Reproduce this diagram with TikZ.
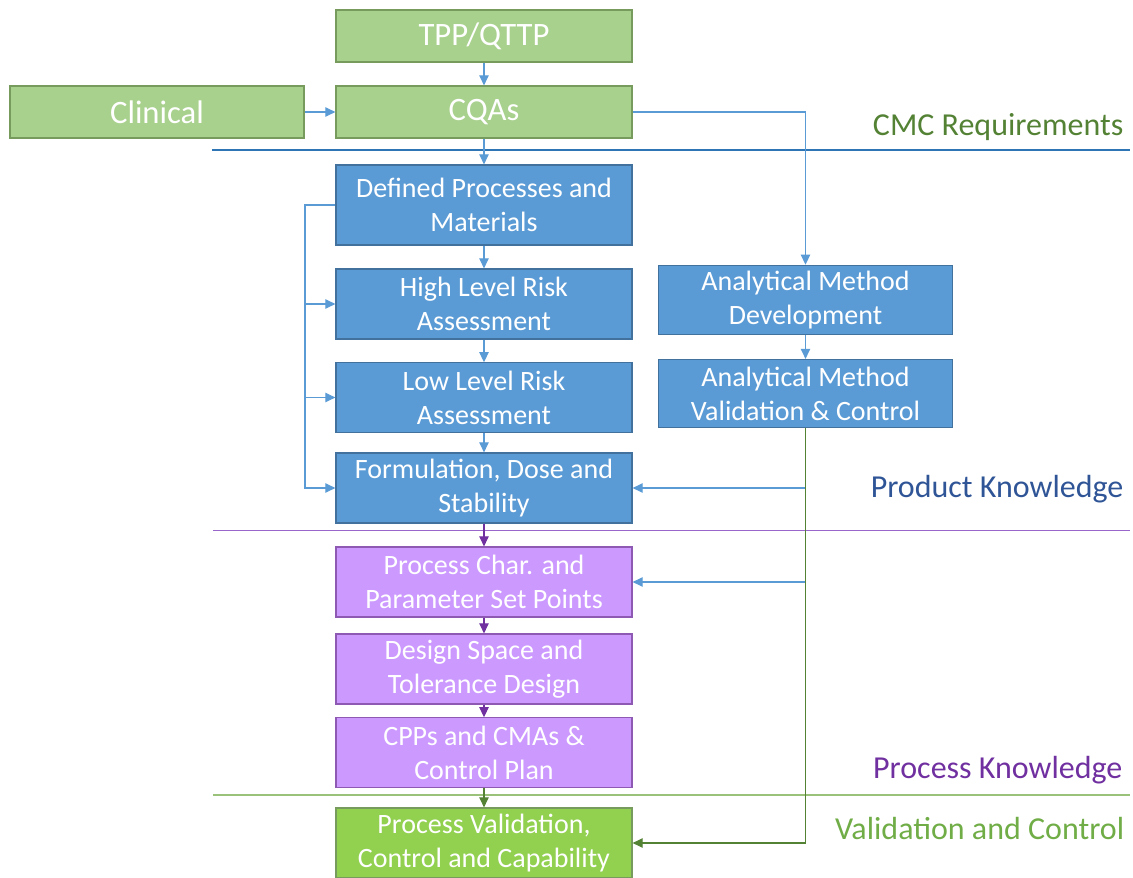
\documentclass[tikz,border=0pt]{standalone}
\usepackage{fontspec}
\setmainfont{Carlito}
\usetikzlibrary{arrows.meta}
\definecolor{lgreen}{HTML}{A9D18E}
\definecolor{dgreen}{HTML}{548235}
\definecolor{vgreen}{HTML}{92D050}
\definecolor{mgreen}{HTML}{70AD47}
\definecolor{sblue}{HTML}{5B9BD5}
\definecolor{dblue}{HTML}{41719C}
\definecolor{nblue}{HTML}{2F5597}
\definecolor{lblue}{HTML}{2E75B6}
\definecolor{lpurple}{HTML}{CC99FF}
\definecolor{dpurple}{HTML}{7030A0}
\definecolor{mpurple}{HTML}{9966CC}
\definecolor{pline}{HTML}{9BC27A}

\begin{document}
\begin{tikzpicture}[x=0.75pt,y=-0.75pt,
	box/.style={draw,line width=0.9pt,text=white,align=center,minimum width=222pt,inner sep=0pt,font=\fontsize{21}{25.5}\selectfont},
	topbox/.style={box,fill=lgreen,draw=dgreen!80,minimum height=39pt,font=\fontsize{24.5}{29}\selectfont},
	bluebox/.style={box,fill=sblue,draw=dblue},
	purplebox/.style={box,fill=lpurple,draw=dpurple!80},
	greenbox/.style={box,fill=vgreen,draw=dgreen!80},
	tag/.style={anchor=base east,font=\fontsize{24}{29}\selectfont},
	barrow/.style={sblue,line width=0.8pt,-{Triangle[length=7.5pt,width=7pt]}},
	parrow/.style={dpurple,line width=0.8pt,-{Triangle[length=7.5pt,width=7pt]}},
	garrow/.style={dgreen,line width=0.8pt,-{Triangle[length=7.5pt,width=7pt]}}]
\useasboundingbox (0,0) rectangle (1133,878);
% separators
\draw[lblue,line width=0.9pt] (212,150) -- (1130,150);
\draw[mpurple,line width=1.4pt] (213,530.5) -- (1130,530.5);
\draw[pline,line width=1.4pt] (213,795) -- (1130,795);
% boxes
\node[topbox] (tpp) at (484,36) {\raisebox{-3pt}{TPP/QTTP}};
\node[topbox,minimum width=220.5pt] (clin) at (157,112) {Clinical};
\node[topbox] (cqa) at (484,112) {\raisebox{-2pt}{CQAs}};
\node[bluebox,minimum height=60pt] (dpm) at (484,205) {Defined Processes and\\Materials};
\node[bluebox,minimum height=52.5pt] (hlra) at (484,304) {High Level Risk\\Assessment};
\node[bluebox,minimum height=52pt] (llra) at (484,397.5) {Low Level Risk\\Assessment};
\node[bluebox,minimum height=52.5pt] (fds) at (484,488) {Formulation, Dose and\\Stability};
\node[bluebox,minimum width=221pt,minimum height=52pt] (amd) at (805.5,300) {Analytical Method\\Development};
\node[bluebox,minimum width=221pt,minimum height=51pt] (amv) at (805.5,393.5) {Analytical Method\\Validation \& Control};
\node[purplebox,minimum height=52.5pt] (pcsp) at (484,582) {Process Char. and\\Parameter Set Points};
\node[purplebox,minimum height=52.5pt] (dstd) at (484,669) {Design Space and\\Tolerance Design};
\node[purplebox,minimum height=52pt] (cpp) at (484,752.5) {CPPs and CMAs \&\\Control Plan};
\node[greenbox,minimum height=52.5pt] (pvc) at (484,843) {Process Validation,\\Control and Capability};
% section labels
\node[tag,text=dgreen] (cmc) at (1128,135) {CMC Requirements};
\node[tag,text=nblue] (pk) at (1128,497) {Product Knowledge};
\node[tag,text=dpurple] (prk) at (1127,778) {Process Knowledge};
\node[tag,text=mgreen] (vc) at (1129,839) {Validation and Control};
% connectors
\draw[barrow] (tpp) -- (cqa);
\draw[barrow] (clin) -- (cqa);
\draw[barrow] (cqa) -- (dpm);
\draw[barrow] (cqa.east) -| (amd.north);
\draw[barrow] (dpm) -- (hlra);
\draw[barrow] (hlra) -- (llra);
\draw[barrow] (llra) -- (fds);
\draw[barrow] (amd) -- (amv);
\coordinate (lbus) at (305,205);
\draw[barrow] (dpm.west) -- (lbus) |- (fds.west);
\draw[barrow] (lbus |- hlra.west) -- (hlra.west);
\draw[barrow] (lbus |- llra.west) -- (llra.west);
\draw[barrow] (amv.south |- fds.east) -- (fds.east);
\draw[barrow] (amv.south |- pcsp.east) -- (pcsp.east);
\draw[garrow] (amv.south) |- (pvc.east);
\draw[parrow] (fds) -- (pcsp);
\draw[parrow] (pcsp) -- (dstd);
\draw[parrow] (dstd) -- (cpp);
\draw[garrow] (cpp) -- (pvc);
\end{tikzpicture}
\end{document}
